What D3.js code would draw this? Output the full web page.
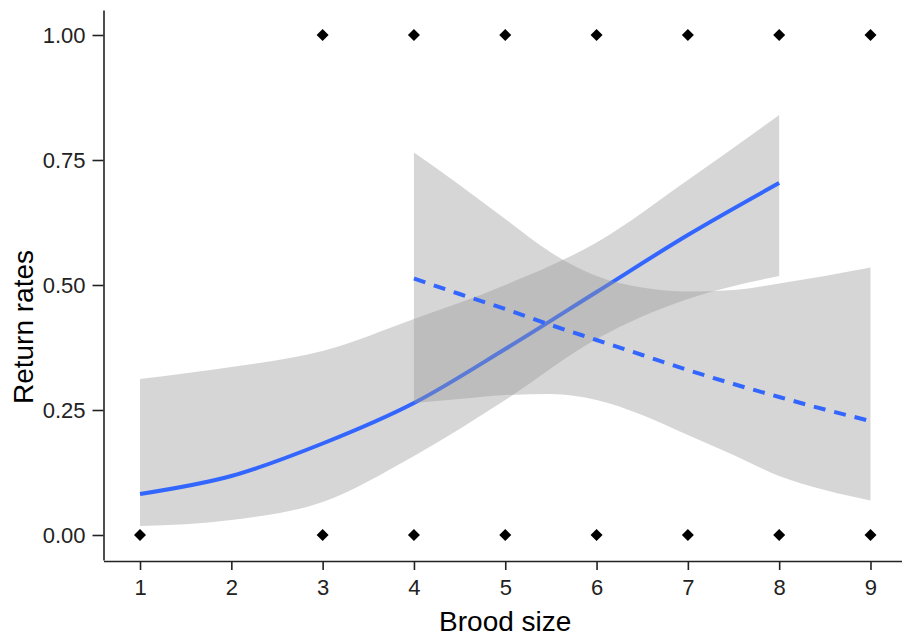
<!DOCTYPE html>
<html>
<head>
<meta charset="utf-8">
<script src="https://cdn.jsdelivr.net/npm/d3@7"></script>
<style>
  body { margin: 0; background: #fff; }
  svg { display: block; font-family: "Liberation Sans", Arial, sans-serif; }
  .axis path, .axis line { stroke: #222; stroke-width: 1.6; }
  .axis text { fill: #222; font-size: 22px; }
  .title { fill: #000; font-size: 28px; }
</style>
</head>
<body>
<div id="chart"></div>
<script>
  "use strict";

  // tick labels
  var xTicks = [1, 2, 3, 4, 5, 6, 7, 8, 9];
  var yTicks = [0, 0.25, 0.5, 0.75, 1];

  // observed birds: brood sizes with a return (1) and without (0)
  var returnedX = [3, 4, 5, 6, 7, 8, 9];
  var notReturnedX = [1, 3, 4, 5, 6, 7, 8, 9];

  // first fit (solid) and its confidence band
  var solidX = [1, 2, 3, 4, 5, 6, 7, 8];
  var solidFit = [0.082, 0.118, 0.183, 0.264, 0.372, 0.486, 0.600, 0.704];
  var solidLow = [0.018, 0.030, 0.066, 0.158, 0.270, 0.392, 0.472, 0.518];
  var solidHigh = [0.312, 0.336, 0.368, 0.432, 0.500, 0.585, 0.710, 0.840];

  // second fit (dashed) and its confidence band
  var dashX = [4, 4.5, 5, 5.5, 6, 6.5, 7, 7.5, 8, 8.5, 9];
  var dashFit = [0.513, 0.482, 0.452, 0.420, 0.390, 0.360, 0.330, 0.302, 0.276, 0.251, 0.228];
  var dashLow = [0.264, 0.272, 0.280, 0.282, 0.270, 0.240, 0.200, 0.160, 0.118, 0.090, 0.069];
  var dashHigh = [0.765, 0.700, 0.632, 0.565, 0.518, 0.495, 0.487, 0.490, 0.503, 0.518, 0.535];

  var width = 902, height = 638;
  var margin = {left: 103.5, top: 10, bottom: 78};

  var svg = d3.select("#chart").append("svg")
              .attr("width", width)
              .attr("height", height);

  var x = d3.scaleLinear().domain([0.6, 9.4]).range([margin.left, 907]);
  var y = d3.scaleLinear().domain([-0.05, 1.05]).range([height - margin.bottom, margin.top]);

  function zip(xs, a, b) {
    return xs.map(function (d, i) { return {x: d, a: a[i], b: b ? b[i] : null}; });
  }

  var band = d3.area()
               .x(function (d) { return x(d.x); })
               .y0(function (d) { return y(d.a); })
               .y1(function (d) { return y(d.b); })
               .curve(d3.curveMonotoneX);

  var line = d3.line()
               .x(function (d) { return x(d.x); })
               .y(function (d) { return y(d.a); })
               .curve(d3.curveMonotoneX);

  var plot = svg.append("g");

  // points (small squares turned 45deg, like the low-res dots)
  var dot = d3.symbol().type(d3.symbolSquare).size(72);
  var points = returnedX.map(function (d) { return [d, 1]; })
                        .concat(notReturnedX.map(function (d) { return [d, 0]; }));

  plot.selectAll("path.pt")
      .data(points)
      .enter().append("path")
      .attr("class", "pt")
      .attr("d", dot)
      .attr("transform", function (d) { return "translate(" + x(d[0]) + "," + y(d[1]) + ") rotate(45)"; })
      .attr("fill", "#000");

  // solid fit
  plot.append("path")
      .attr("d", band(zip(solidX, solidLow, solidHigh)))
      .attr("fill", "#999999")
      .attr("fill-opacity", 0.4);

  plot.append("path")
      .attr("d", line(zip(solidX, solidFit)))
      .attr("fill", "none")
      .attr("stroke", "#3366FF")
      .attr("stroke-width", 4);

  // dashed fit
  plot.append("path")
      .attr("d", band(zip(dashX, dashLow, dashHigh)))
      .attr("fill", "#999999")
      .attr("fill-opacity", 0.4);

  plot.append("path")
      .attr("d", line(zip(dashX, dashFit)))
      .attr("fill", "none")
      .attr("stroke", "#3366FF")
      .attr("stroke-width", 4)
      .attr("stroke-dasharray", "12,9");

  // axes
  svg.append("g")
     .attr("class", "axis")
     .attr("transform", "translate(0," + (height - margin.bottom + 1) + ")")
     .call(d3.axisBottom(x).tickValues(xTicks).tickFormat(d3.format("d"))
             .tickSize(9).tickSizeOuter(0).tickPadding(9));

  svg.append("g")
     .attr("class", "axis")
     .attr("transform", "translate(" + margin.left + ",0)")
     .call(d3.axisLeft(y).tickValues(yTicks).tickFormat(d3.format(".2f"))
             .tickSize(11).tickSizeOuter(0).tickPadding(7));

  svg.selectAll(".axis .domain").attr("stroke", "#000");

  // axis titles
  svg.append("text")
     .attr("class", "title")
     .attr("x", (margin.left + 907) / 2)
     .attr("y", 631)
     .attr("text-anchor", "middle")
     .text("Brood size");

  svg.append("text")
     .attr("class", "title")
     .attr("transform", "translate(33,327) rotate(-90)")
     .attr("text-anchor", "middle")
     .text("Return rates");
</script>
</body>
</html>
